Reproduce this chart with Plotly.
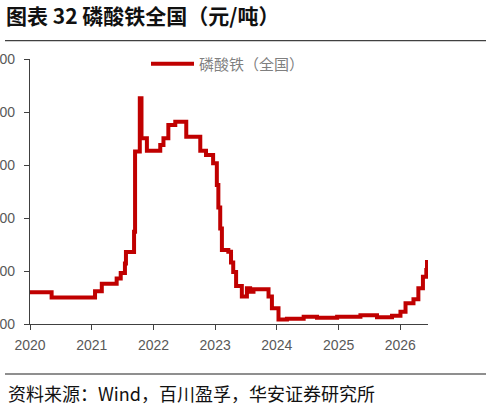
import plotly.graph_objects as go

# ---- data ----
dates = [
    "2020-01-01", "2020-05-08", "2021-01-20", "2021-03-01", "2021-05-28",
    "2021-06-21", "2021-07-16", "2021-07-22", "2021-09-08", "2021-09-14",
    "2021-10-12", "2021-10-22", "2021-11-23", "2022-02-10", "2022-03-01",
    "2022-03-30", "2022-05-10", "2022-07-14", "2022-10-05", "2022-11-08",
    "2022-12-20", "2023-01-11", "2023-01-20", "2023-01-31", "2023-02-10",
    "2023-03-20", "2023-04-05", "2023-04-18", "2023-05-05", "2023-06-08",
    "2023-07-08", "2023-07-27", "2023-08-16", "2023-11-13", "2023-12-03",
    "2024-01-11", "2024-03-01", "2024-06-08", "2024-08-26", "2024-12-23",
    "2025-05-10", "2025-08-16", "2025-11-13", "2026-01-02", "2026-02-01",
    "2026-03-20", "2026-04-18", "2026-05-15", "2026-06-04", "2026-06-08",
]
price = [
    11800, 11500, 11860, 12280, 12580,
    12880, 13420, 14080, 15220, 19760,
    22780, 20510, 19810, 20130, 20510,
    21270, 21450, 20600, 19810, 19560,
    19100, 17870, 16600, 15400, 14190,
    14090, 13480, 12940, 12150, 11550,
    12020, 11820, 11970, 11550, 10890,
    10260, 10300, 10410, 10360, 10410,
    10500, 10380, 10460, 10700, 11180,
    11400, 12020, 12680, 13060, 13620,
]
series_name = "磷酸铁（全国）"
y_ticks = [10000, 13000, 16000, 19000, 22000, 25000]
x_ticks = ["2020-01-01", "2021-01-01", "2022-01-01", "2023-01-01",
           "2024-01-01", "2025-01-01", "2026-01-01"]
x_tick_labels = ["2020", "2021", "2022", "2023", "2024", "2025", "2026"]
title_text = "图表 32 磷酸铁全国（元/吨）"
source_text = "资料来源：Wind，百川盈孚，华安证券研究所"

CJK = "Noto Sans CJK SC, Liberation Sans, sans-serif"
LAT = "Liberation Sans, Arial, sans-serif"
AXIS = "#404040"
TICKFONT = "#595959"

fig = go.Figure()
fig.add_trace(go.Scatter(
    x=dates, y=price, mode="lines", name=series_name,
    line=dict(color="#C00000", width=4, shape="hv"),
))

W, H = 491, 406
L, R, T, B = 30, 63, 59, 82
pw, ph = W - L - R, H - T - B

def px_x(p):
    return (p - L) / pw

def px_y(p):
    return (H - B - p) / ph

fig.update_layout(
    width=W, height=H,
    margin=dict(l=L, r=R, t=T, b=B, pad=0, autoexpand=False),
    paper_bgcolor="white", plot_bgcolor="white",
    font=dict(family=CJK, color=TICKFONT),
    showlegend=True,
    legend=dict(
        xref="container", yref="container",
        x=146 / W, y=1 - 64 / H, xanchor="left", yanchor="middle",
        bgcolor="rgba(0,0,0,0)", borderwidth=0,
        font=dict(size=15, color="#7F7F7F", family=CJK),
        itemwidth=43,
    ),
    title=dict(
        text="<b>" + title_text + "</b>",
        x=6 / W, xref="container", xanchor="left",
        y=1 - 16.5 / H, yref="container", yanchor="middle",
        pad=dict(l=0, r=0, t=0, b=0),
        font=dict(size=21, color="#111111", family=CJK),
    ),
    xaxis=dict(
        type="date",
        range=["2020-01-01", "2026-06-14"],
        tickvals=x_ticks, ticktext=x_tick_labels,
        showgrid=False, zeroline=False,
        showline=True, linecolor=AXIS, linewidth=1.3,
        ticks="outside", ticklen=5, tickcolor=AXIS, tickwidth=1.3,
        tickfont=dict(size=14, color=TICKFONT, family=LAT),
        ticklabelstandoff=3,
        automargin=False,
    ),
    yaxis=dict(
        range=[10000, 25000],
        tickvals=y_ticks, tickformat="d",
        showgrid=False, zeroline=False,
        showline=True, linecolor=AXIS, linewidth=1.3,
        ticks="outside", ticklen=5, tickcolor=AXIS, tickwidth=1.3,
        tickfont=dict(size=14, color=TICKFONT, family=LAT),
        ticklabelstandoff=6,
        automargin=False,
    ),
    shapes=[
        dict(type="line", xref="paper", yref="paper",
             x0=px_x(5), x1=px_x(486), y0=px_y(40.7), y1=px_y(40.7),
             line=dict(color="#404040", width=1.2)),
        dict(type="line", xref="paper", yref="paper",
             x0=px_x(5), x1=px_x(486), y0=px_y(374), y1=px_y(374),
             line=dict(color="#202020", width=1.2)),
    ],
    annotations=[
        dict(text=source_text, xref="paper", yref="paper",
             x=px_x(6), y=px_y(393), xanchor="left", yanchor="middle",
             showarrow=False, font=dict(size=18, color="#111111", family=CJK)),
    ],
)

fig.write_html(
    "out.html",
    config={"displayModeBar": False},
    post_script="document.body.style.margin='0';document.body.style.overflow='hidden';",
)
